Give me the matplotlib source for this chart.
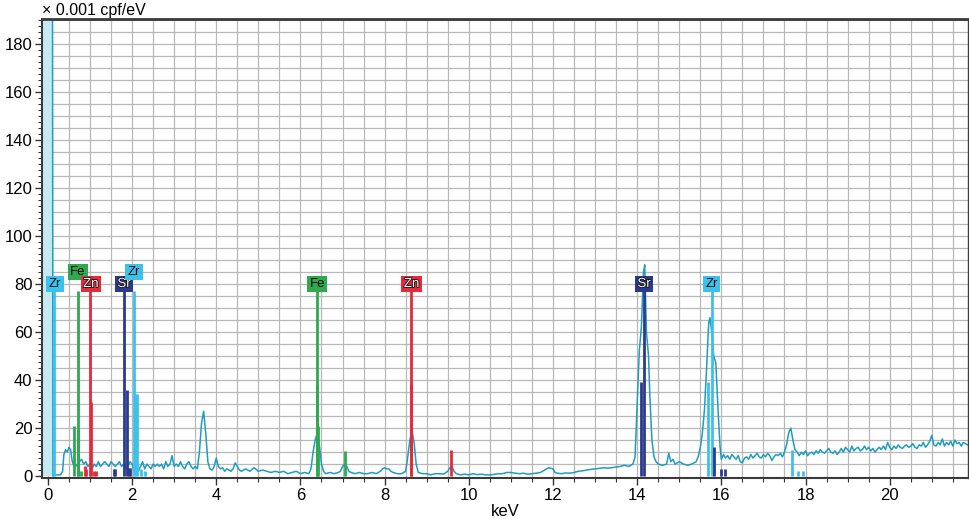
import matplotlib
matplotlib.use("Agg")
import matplotlib.pyplot as plt
import matplotlib.patheffects as pe
from matplotlib.ticker import MultipleLocator

plt.rcParams['font.family'] = ['Liberation Sans', 'DejaVu Sans']

# ---------------- data ----------------
energy_kev = [
    -0.12, -0.05, 0.0, 0.05, 0.10, 0.12, 0.20, 0.30, 0.35, 0.38, 0.42, 0.46, 0.50, 0.54,
    0.58, 0.62, 0.66, 0.70, 0.75, 0.80, 0.85, 0.90, 0.95, 1.00, 1.05, 1.10, 1.15, 1.20,
    1.25, 1.30, 1.35, 1.40, 1.45, 1.50, 1.55, 1.60, 1.65, 1.70, 1.75, 1.80, 1.85, 1.90,
    1.95, 2.00, 2.05, 2.10, 2.15, 2.20, 2.25, 2.30, 2.35, 2.40, 2.45, 2.50, 2.55, 2.60,
    2.65, 2.70, 2.75, 2.80, 2.85, 2.90, 2.95, 3.00, 3.05, 3.10, 3.15, 3.20, 3.25, 3.30,
    3.35, 3.40, 3.45, 3.50, 3.55, 3.60, 3.65, 3.70, 3.75, 3.80, 3.85, 3.90, 3.95, 4.00,
    4.05, 4.10, 4.15, 4.20, 4.25, 4.30, 4.35, 4.40, 4.45, 4.50, 4.55, 4.60, 4.70, 4.80,
    4.90, 5.00, 5.10, 5.20, 5.30, 5.40, 5.50, 5.60, 5.70, 5.80, 5.90, 6.00, 6.10, 6.20,
    6.25, 6.30, 6.35, 6.40, 6.45, 6.50, 6.55, 6.60, 6.70, 6.80, 6.90, 6.95, 7.00, 7.05,
    7.10, 7.15, 7.20, 7.30, 7.40, 7.50, 7.60, 7.70, 7.80, 7.90, 7.95, 8.00, 8.05, 8.10,
    8.15, 8.20, 8.30, 8.40, 8.50, 8.55, 8.60, 8.65, 8.70, 8.75, 8.80, 8.90, 9.00, 9.10,
    9.20, 9.30, 9.40, 9.50, 9.55, 9.60, 9.65, 9.70, 9.80, 9.90, 10.0, 10.1, 10.2, 10.3,
    10.4, 10.5, 10.6, 10.7, 10.8, 10.9, 11.0, 11.1, 11.2, 11.3, 11.4, 11.5, 11.6, 11.7,
    11.8, 11.9, 12.0, 12.05, 12.1, 12.2, 12.3, 12.4, 12.5, 12.6, 12.7, 12.8, 12.9, 13.0,
    13.1, 13.2, 13.3, 13.4, 13.5, 13.6, 13.7, 13.8, 13.9, 13.95, 14.0, 14.05, 14.1, 14.15,
    14.18, 14.22, 14.27, 14.3, 14.35, 14.4, 14.45, 14.5, 14.6, 14.7, 14.75, 14.8, 14.85,
    14.9, 15.0, 15.1, 15.2, 15.3, 15.4, 15.45, 15.5, 15.55, 15.6, 15.65, 15.7, 15.73,
    15.77, 15.82, 15.87, 15.92, 15.97,
    16.00, 16.05, 16.10, 16.15, 16.20, 16.25, 16.30, 16.35, 16.40, 16.45, 16.50, 16.55,
    16.60, 16.65, 16.70, 16.75, 16.80, 16.85, 16.90, 16.95, 17.00, 17.05, 17.10, 17.15,
    17.20, 17.25, 17.30, 17.35, 17.40, 17.45, 17.50, 17.55, 17.60, 17.65, 17.70, 17.75,
    17.80, 17.85, 17.90, 17.95, 18.00, 18.05, 18.10, 18.15, 18.20, 18.25, 18.30, 18.35,
    18.40, 18.45, 18.50, 18.55, 18.60, 18.65, 18.70, 18.75, 18.80, 18.85, 18.90, 18.95,
    19.00, 19.05, 19.10, 19.15, 19.20, 19.25, 19.30, 19.35, 19.40, 19.45, 19.50, 19.55,
    19.60, 19.65, 19.70, 19.75, 19.80, 19.85, 19.90, 19.95, 20.00, 20.05, 20.10, 20.15,
    20.20, 20.25, 20.30, 20.35, 20.40, 20.45, 20.50, 20.55, 20.60, 20.65, 20.70, 20.75,
    20.80, 20.85, 20.90, 20.95, 21.00, 21.05, 21.10, 21.15, 21.20, 21.25, 21.30, 21.35,
    21.40, 21.45, 21.50, 21.55, 21.60, 21.65, 21.70, 21.75, 21.80, 21.85,
]
counts = [
    400, 400, 400, 400, 400, 0, 0.5, 0.5, 2, 9, 11, 10, 12, 11,
    6, 4, 5, 4, 6, 7, 5, 6, 4, 5, 3, 5, 4, 6,
    4, 5, 6, 5, 4, 6, 5, 4, 5, 6, 4, 5, 3, 4,
    6, 5, 2, 3, 2, 4, 6, 3, 5, 4, 3, 5, 4, 5,
    4, 5, 3, 6, 4, 5, 8.5, 4, 5, 4, 6, 4, 3, 5,
    6, 4, 3, 4, 3, 10, 22, 27, 18, 6, 3, 2.5, 4, 7.5,
    4, 3, 3.5, 2, 3, 2.5, 2, 3, 5.5, 4, 2.5, 2, 3, 2,
    3.5, 2, 2.5, 2, 1.5, 2, 1.5, 2, 1, 1.5, 2, 1, 1.5, 1,
    3, 10, 15, 18, 13, 5, 2, 1, 1.5, 1, 1.5, 2, 4, 5,
    4, 2, 1.5, 1, 1.5, 1, 1, 1.5, 1, 2, 3, 3.5, 3, 3,
    2, 1.5, 1, 1, 2, 8, 15, 19, 14, 5, 1.5, 1, 1, 0.5,
    1, 1, 0.8, 2, 3.5, 4, 2, 1, 0.5, 0.8, 0.5, 1, 0.6, 0.8,
    0.5, 0.5, 0.7, 1, 1, 1.5, 1.5, 1.2, 1, 1.2, 0.8, 1, 1.2, 1.5,
    2.5, 3.5, 3, 1.5, 1.2, 1, 1.3, 1.2, 1.5, 2, 2.2, 2.5, 2.8, 3,
    3.2, 3.5, 3.3, 3.5, 3.8, 4, 4.5, 4, 5, 8, 30, 52, 62, 85,
    88, 60, 50, 34, 15, 8, 6, 5, 4.5, 5, 9.5, 6, 7,
    5, 6, 5, 4.5, 5, 6, 8, 12, 18, 28, 45, 64, 66,
    60, 50, 47, 28, 12,
    7, 9, 7.5, 8.5, 7, 9, 8, 7, 8.5, 6, 5.5, 7.5,
    8, 7, 9, 7.5, 8.5, 9.5, 8, 7.5, 9, 8, 9.5, 8.5,
    6.5, 8, 9, 8.5, 9.5, 8, 10, 13, 18, 20, 15, 11,
    10, 8.5, 10, 9, 10.5, 8.5, 9.5, 10, 9, 10.5, 9.5, 11,
    10, 9.5, 10.5, 11.5, 10, 9.5, 10.5, 9, 10, 11.5, 10, 12,
    11, 10, 12.5, 10.5, 11.5, 12, 10.5, 11, 12.5, 11, 12, 10.5,
    11.5, 10, 11, 12, 11, 12.5, 11, 14, 12, 11, 12.5, 11.5,
    13, 12, 11.5, 12.5, 13, 12, 12.5, 13.5, 12, 11.5, 13, 12.5,
    14, 12, 13, 14.5, 17, 13, 12.5, 14, 13, 15.5, 12.5, 14,
    13, 14.5, 12.5, 15, 13.5, 14, 12.5, 14, 13.5, 13,
]

# element marker lines (position keV, height)
zr_pos = [0.151, 2.042, 2.08, 2.12, 2.22, 2.30, 15.69, 15.775, 17.67, 17.82, 17.94]
zr_h = [77, 77, 34, 34, 3, 2, 39, 77, 11, 2, 2]
fe_pos = [0.615, 0.705, 0.725, 0.79, 6.39, 6.403, 6.415, 7.06]
fe_h = [21, 77, 19, 2, 38, 77, 21, 10.5]
zn_pos = [0.884, 0.907, 1.012, 1.034, 1.107, 1.152, 8.615, 8.638, 9.572]
zn_h = [4, 3, 77, 31, 2, 2, 38, 77, 11]
sr_pos = [1.582, 1.60, 1.806, 1.872, 1.93, 1.96, 14.098, 14.165, 15.835, 15.98, 16.08]
sr_h = [3, 3, 77, 36, 3.3, 3.3, 39, 77, 12, 3, 3]

# label annotations
label_text = ['Zr', 'Fe', 'Zn', 'Sr', 'Zr', 'Fe', 'Zn', 'Sr', 'Zr']
label_x = [0.17, 0.71, 1.02, 1.81, 2.045, 6.40, 8.64, 14.165, 15.775]
label_y = [80, 85, 80, 80, 85, 80, 80, 80, 80]

# ---------------- style ----------------
spec_color = '#1f9dc0'
c_zr = '#3cc2ea'
c_fe = '#2fa84f'
c_zn = '#e42a3c'
c_sr = '#2c3a8e'
label_colors = [c_zr, c_fe, c_zn, c_sr, c_zr, c_fe, c_zn, c_sr, c_zr]
label_fg = ['#111', '#111', 'white', 'white', '#111', '#111', 'white', 'white', '#111']

fig = plt.figure(figsize=(9.70, 5.21), dpi=100)
ax = fig.add_axes([42 / 970, 1 - 478 / 521, 926 / 970, (478 - 19) / 521])

ax.set_xlim(-0.14, 21.86)
ax.set_ylim(-0.8, 190.4)

ax.xaxis.set_major_locator(MultipleLocator(2))
ax.xaxis.set_minor_locator(MultipleLocator(0.5))
ax.yaxis.set_major_locator(MultipleLocator(20))
ax.yaxis.set_minor_locator(MultipleLocator(2.5))

# grid
for gx in [i * 0.5 for i in range(0, 44)]:
    ax.axvline(gx, color='#b8b8b8', lw=0.9, zorder=0)
for gy in [i * 5 for i in range(1, 39)]:
    ax.axhline(gy, color='#b8b8b8', lw=0.9, zorder=0)

# spectrum
ax.fill_between([e for e in energy_kev if e <= 0.11],
                [c for e, c in zip(energy_kev, counts) if e <= 0.11],
                color='#c6eaf3', zorder=1, lw=0)
ax.plot(energy_kev, counts, color=spec_color, lw=1.1, zorder=2)

# markers
for pos, h, col in [(zr_pos, zr_h, c_zr), (fe_pos, fe_h, c_fe),
                    (zn_pos, zn_h, c_zn), (sr_pos, sr_h, c_sr)]:
    ax.vlines(pos, 0, h, colors=col, lw=2.0, zorder=3)

for t, x, y, bc, fc in zip(label_text, label_x, label_y, label_colors, label_fg):
    txt = ax.text(x, y, t, ha='center', va='center', fontsize=9.5, color=fc, zorder=5,
                  bbox=dict(boxstyle='square,pad=0.18', fc=bc, ec='none'))
    if fc == 'white':
        txt.set_path_effects([pe.withStroke(linewidth=1.2, foreground='#111')])

# axes styling
for s in ['left', 'bottom', 'top', 'right']:
    ax.spines[s].set_color('#3a3a3a')
ax.spines['top'].set_linewidth(2.0)
ax.spines['left'].set_linewidth(1.5)
ax.spines['bottom'].set_linewidth(1.5)
ax.spines['right'].set_linewidth(1.0)

ax.tick_params(axis='both', which='major', labelsize=12, length=5, width=1, color='#333',
               direction='out', pad=2)
ax.tick_params(axis='both', which='minor', length=3, width=0.8, color='#333', direction='out')
ax.set_xticks([0, 2, 4, 6, 8, 10, 12, 14, 16, 18, 20])
ax.set_xticklabels(['0', '2', '4', '6', '8', '10', '12', '14', '16', '18', '20'])

ax.set_xlabel('keV', fontsize=12, labelpad=1)
fig.text(42 / 970, 1 - 10 / 521, '× 0.001 cpf/eV', fontsize=11.5, ha='left', va='center')

fig.savefig('out.png', dpi=100)
